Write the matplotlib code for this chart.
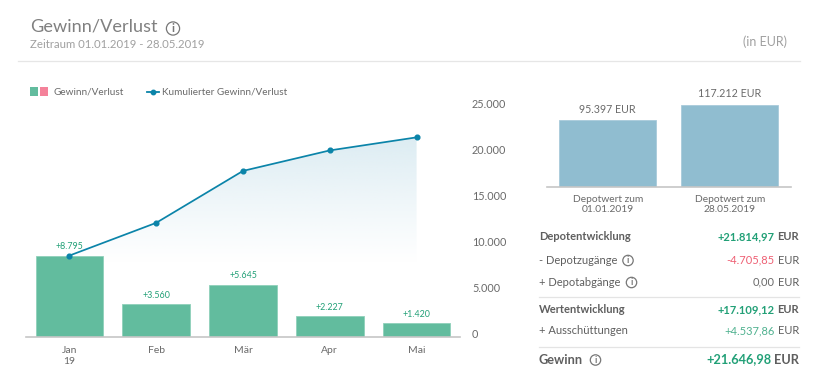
import numpy as np
import matplotlib
matplotlib.use("Agg")
import matplotlib.pyplot as plt
from matplotlib.patches import Polygon, Circle, Rectangle
from matplotlib.lines import Line2D
from matplotlib.transforms import ScaledTranslation

months = ["Jan\n19", "Feb", "Mär", "Apr", "Mai"]
gain = [8795, 3560, 5645, 2227, 1420]
cumulative = [8795, 12355, 18000, 20227, 21647]
y_ticks = [0, 5000, 10000, 15000, 20000, 25000]
depot_labels = ["Depotwert zum\n01.01.2019", "Depotwert zum\n28.05.2019"]
depot_values = [95397, 117212]
table_labels = ["Depotentwicklung", "- Depotzugänge", "+ Depotabgänge", "Wertentwicklung", "+ Ausschüttungen", "Gewinn"]
table_values = ["+21.814,97", "-4.705,85", "0,00", "+17.109,12", "+4.537,86", "+21.646,98"]

W, H = 824, 388
GREEN, PINK, LINE = "#62bc9e", "#f4829a", "#0b84a9"
BLUE = "#90bdd0"
TXT, LIGHT = "#6a6a6a", "#8f8f8f"
DARKGREEN, RED = "#22a077", "#ee5f73"
plt.rcParams["font.family"] = ["Lato", "DejaVu Sans"]

fig = plt.figure(figsize=(W / 100, H / 100), dpi=100, facecolor="white")

def px_axes(x0, y0, x1, y1, **kw):
    return fig.add_axes([x0 / W, 1 - y1 / H, (x1 - x0) / W, (y1 - y0) / H], **kw)

# overlay in pixel coordinates for page furniture
ov = px_axes(0, 0, W, H, zorder=0)
ov.set_xlim(0, W); ov.set_ylim(H, 0); ov.axis("off")

# main chart
ax = px_axes(26, 106.5, 460, 336.5, zorder=2)
ax.patch.set_alpha(0)
x = np.arange(len(months))
ax.set_xlim(-0.5, 4.5)
ax.set_ylim(0, 25000)

grad = np.linspace(1, 0, 256).reshape(-1, 1) ** 1.1
rgba = np.zeros((256, 1, 4))
rgba[..., :3] = matplotlib.colors.to_rgb("#cfe5ee")
rgba[..., 3] = grad * 0.72
low = 8000
top = max(cumulative)
im = ax.imshow(rgba, extent=(x[0], x[-1], low, top), origin="upper", aspect="auto", zorder=1)
poly = Polygon(list(zip(x, cumulative)) + [(x[-1], low), (x[0], low)], transform=ax.transData,
               facecolor="none", edgecolor="none")
ax.add_patch(poly)
im.set_clip_path(poly)
ax.set_xlim(-0.5, 4.5)
ax.set_ylim(0, 25000)

ax.bar(x, gain, width=0.78, color=GREEN, edgecolor="#8fd0ba", linewidth=0.6, zorder=2)
ax.plot(x, cumulative, color=LINE, lw=1.25, marker="o", ms=3.4, zorder=3, clip_on=False)
for xi, v in zip(x, gain):
    ax.annotate("+" + f"{v:,}".replace(",", "."), (xi, v), xytext=(0, 8.7 * 0.72), textcoords="offset points",
                ha="center", va="center", fontsize=6.4, color=DARKGREEN, zorder=4)

for s in ["top", "left", "right"]:
    ax.spines[s].set_visible(False)
ax.spines["bottom"].set_color("#c6c6c6")
ax.spines["bottom"].set_linewidth(1.2)
ax.set_xticks(x, months)
ax.tick_params(axis="x", length=0, pad=6.7, labelsize=7.5, labelcolor=TXT)
ax.yaxis.tick_right()
ax.set_yticks(y_ticks, [f"{v:,}".replace(",", ".") for v in y_ticks])
ax.tick_params(axis="y", length=0, pad=8.6, labelsize=7.8, labelcolor=TXT)
shift = ScaledTranslation(0, 2.5 / 100, fig.dpi_scale_trans)
for lab in ax.get_yticklabels():
    lab.set_transform(lab.get_transform() + shift)
for lab in ax.get_xticklabels():
    lab.set_linespacing(1.35)

# depot chart
base, scale_top = 187.3, 90.0
ax2 = px_axes(547, scale_top, 791, base, zorder=2)
ax2.patch.set_alpha(0)
x2 = np.arange(len(depot_values))
ax2.bar(x2, depot_values, width=0.795, color=BLUE, edgecolor="#a9cbda", linewidth=0.6)
ax2.set_xlim(-0.497, 1.5)
ax2.set_ylim(0, max(depot_values) * (base - scale_top) / 82.3)
for xi, v in zip(x2, depot_values):
    ax2.annotate(f"{v:,}".replace(",", ".") + " EUR", (xi, v), xytext=(0, 8), textcoords="offset points",
                 ha="center", va="center", fontsize=7.7, color=TXT)
for s in ["top", "left", "right"]:
    ax2.spines[s].set_visible(False)
ax2.spines["bottom"].set_color("#c6c6c6")
ax2.spines["bottom"].set_linewidth(1.2)
ax2.set_xticks(x2, depot_labels)
ax2.set_yticks([])
ax2.tick_params(axis="x", length=0, pad=5.5, labelsize=7.4, labelcolor=TXT)
for lab in ax2.get_xticklabels():
    lab.set_linespacing(1.15)

def info(cx, cy, r=4.6, size=6.5, color="#777777"):
    ov.add_patch(Circle((cx, cy), r, fill=False, edgecolor=color, lw=0.9))
    ov.text(cx, cy + 0.2, "i", ha="center", va="center", fontsize=size, color=color, fontweight="bold")

# header
ov.text(30, 27, "Gewinn/Verlust", fontsize=13.1, color="#808080", va="center", ha="left")
info(173, 28.5, r=6.6, size=8.5)
ov.text(30, 45, "Zeitraum 01.01.2019 - 28.05.2019", fontsize=8.2, color="#a0a0a0", va="center", ha="left")
ov.text(787, 42, "(in EUR)", fontsize=9, color="#a0a0a0", va="center", ha="right")
ov.plot([18, 800], [60.5, 60.5], color="#e6e6e6", lw=0.9)

# legend
ov.add_patch(Rectangle((30, 87), 8.5, 9, color=GREEN, lw=0))
ov.add_patch(Rectangle((40, 87), 8.5, 9, color=PINK, lw=0))
ov.text(54, 92, "Gewinn/Verlust", fontsize=7.2, color=TXT, va="center", ha="left")
ov.add_line(Line2D([147, 153, 159], [92, 92, 92], color=LINE, lw=1.3, marker="o", ms=3.2, markevery=[1]))
ov.text(162, 92, "Kumulierter Gewinn/Verlust", fontsize=7.2, color=TXT, va="center", ha="left")

# table
rows_y = [237, 260, 282, 309.5, 331, 359.5]
bold = [True, False, False, True, False, True]
sizes = [8, 8, 8, 8, 8, 9.2]
val_col = [DARKGREEN, RED, TXT, DARKGREEN, "#4fb18f", DARKGREEN]
icons = {1: 628.0, 2: 631.5, 5: 595.5}
r = fig.canvas.get_renderer()
for i, (lab, val, y) in enumerate(zip(table_labels, table_values, rows_y)):
    w = "bold" if bold[i] else "normal"
    ov.text(539, y, lab, fontsize=sizes[i], color="#5f5f5f", fontweight=w, va="center", ha="left")
    eur = ov.text(799, y, "EUR", fontsize=sizes[i], color="#5f5f5f", fontweight=w, va="center", ha="right")
    left = eur.get_window_extent(r).x0 - 3
    ov.text(left, y, val, fontsize=sizes[i], color=val_col[i], fontweight=w, va="center", ha="right")
    if i in icons:
        info(icons[i], y + 0.5, r=5.2)
for y in (296.5, 346.5):
    ov.plot([539, 799], [y, y], color="#e4e4e4", lw=0.9)

fig.savefig("out.png", dpi=100, facecolor="white")
